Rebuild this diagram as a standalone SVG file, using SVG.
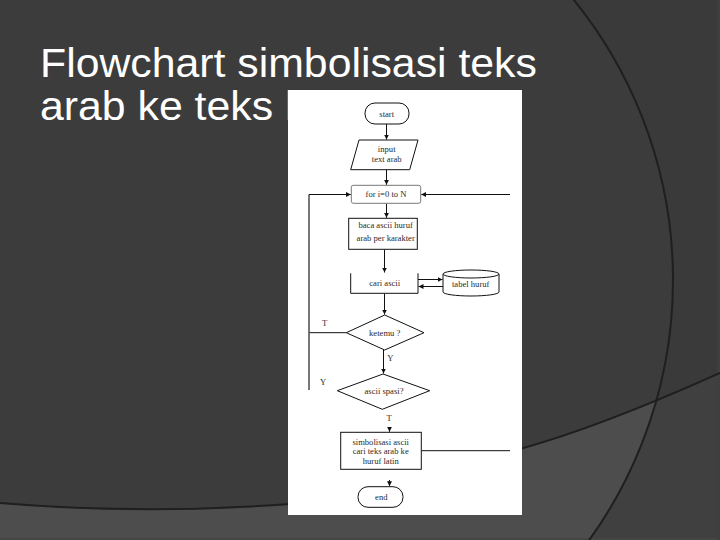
<svg xmlns="http://www.w3.org/2000/svg" width="720" height="540" viewBox="0 0 720 540">
<style>
.title{font-family:"Liberation Sans",Arial,sans-serif;font-size:40px;fill:#ffffff}
.nd{fill:#ffffff;stroke:#111;stroke-width:1}
.lb{font-family:"Liberation Serif","Times New Roman",serif;font-size:8.6px;fill:#2a2a2a;text-anchor:middle}
.cn{fill:none;stroke:#111;stroke-width:1}
.bgl{fill:none;stroke:#1f1f1f;stroke-width:2}
</style>
<defs>
<marker id="ah" markerUnits="userSpaceOnUse" markerWidth="6" markerHeight="6" refX="5" refY="2.5" orient="auto">
<path d="M0,0 L5,2.5 L0,5 z" fill="#111"/>
</marker>
<clipPath id="bigc"><circle cx="228" cy="280" r="445"/></clipPath>
</defs>
<g id="background">
<rect x="0" y="0" width="720" height="540" fill="#3a3a3a"/>
<circle cx="228" cy="280" r="445" fill="#3c3c3c"/>
<path d="M0,503 Q144,515 290,504 L520,449 Q600,427 720,373 L720,540 L0,540 Z" fill="#404040"/>
<path d="M0,503 Q144,515 290,504 L520,449 Q600,427 720,373 L720,540 L0,540 Z" fill="#4d4d4d" clip-path="url(#bigc)"/>
<rect x="0" y="538" width="720" height="2" fill="#454545"/>
<rect x="717" y="0" width="3" height="540" fill="#3f3f3f"/>
<circle cx="228" cy="280" r="445" class="bgl"/>
<path d="M0,503 Q144,515 290,504" class="bgl"/>
<path d="M520,449 Q600,427 720,373" class="bgl"/>
</g>
<g id="title" transform="translate(40,0) scale(1.07,1)">
<text class="title" x="0" y="76.7">Flowchart simbolisasi teks</text>
<text class="title" x="0" y="120">arab ke teks latin</text>
</g>
<rect id="image-bg" x="288" y="90" width="234" height="425" fill="#ffffff"/>
<g id="connectors">
<path class="cn" d="M386.5,124 V139.5" marker-end="url(#ah)"/>
<path class="cn" d="M386.5,170 V184.8" marker-end="url(#ah)"/>
<path class="cn" d="M386.5,203.5 V217.8" marker-end="url(#ah)"/>
<path class="cn" d="M384.5,249.5 V272.5" marker-end="url(#ah)"/>
<path class="cn" d="M384.5,293.5 V314.5" marker-end="url(#ah)"/>
<path class="cn" d="M383.5,350 V373.5" marker-end="url(#ah)"/>
<path class="cn" d="M389.5,427 V431.8" marker-end="url(#ah)"/>
<path class="cn" d="M389.5,480 V486.2" marker-end="url(#ah)"/>
<path class="cn" d="M346.3,332.7 H309"/>
<path d="M309,390 V194.5" fill="none" stroke="#555" stroke-width="1.6"/>
<path class="cn" d="M309,194.5 H350.8" marker-end="url(#ah)"/>
<path class="cn" d="M510,194.5 H421.2" marker-end="url(#ah)"/>
<path class="cn" d="M421.3,450.7 H510"/>
<path class="cn" d="M418,279.5 H442.5" marker-end="url(#ah)"/>
<path class="cn" d="M443,286.5 H418.5" marker-end="url(#ah)"/>
<text class="lb" x="324.7" y="326">T</text>
<text class="lb" x="390.3" y="361">Y</text>
<text class="lb" x="323" y="384.5">Y</text>
<text class="lb" x="389" y="421">T</text>
</g>
<g id="start">
<rect class="nd" x="365" y="103" width="44" height="21" rx="10"/>
<text class="lb" x="386.7" y="117">start</text>
</g>
<g id="input">
<polygon class="nd" points="359,140 418,140 409.7,169.7 350.7,169.7"/>
<text class="lb" x="386.7" y="151.5">input</text>
<text class="lb" x="386.7" y="162">text arab</text>
</g>
<g id="for">
<rect x="351.3" y="185.3" width="69.4" height="18" rx="2" fill="#ffffff" stroke="#777" stroke-width="1"/>
<text class="lb" x="386" y="197">for i=0 to N</text>
</g>
<g id="baca">
<rect class="nd" x="348.7" y="218.3" width="68.6" height="31"/>
<text class="lb" x="385.7" y="228">baca ascii huruf</text>
<text class="lb" x="385.7" y="240.5">arab per karakter</text>
</g>
<g id="cari">
<path d="M350.7,273.3 V293.3 H418 V273.3" fill="#ffffff" stroke="#111" stroke-width="1"/>
<text class="lb" x="384.7" y="286">cari ascii</text>
</g>
<g id="tabel">
<path d="M443,274 V292 A28,4 0 0 0 499,292 V274" fill="#ffffff" stroke="#111" stroke-width="1"/>
<ellipse cx="471" cy="274" rx="28" ry="4" fill="#ffffff" stroke="#111" stroke-width="1"/>
<text class="lb" x="470.7" y="287">tabel huruf</text>
</g>
<g id="ketemu">
<polygon class="nd" points="384.7,315 424,332.7 384.7,350 346.3,332.7"/>
<text class="lb" x="384.7" y="335.5">ketemu ?</text>
</g>
<g id="spasi">
<polygon class="nd" points="383,374 429.7,390.7 382.3,409.3 337.3,390.7"/>
<text class="lb" x="384" y="394">ascii spasi?</text>
</g>
<g id="simbolisasi">
<rect class="nd" x="340.7" y="432.3" width="80.6" height="37"/>
<text class="lb" x="380.7" y="444.5">simbolisasi ascii</text>
<text class="lb" x="380.7" y="454">cari teks arab ke</text>
<text class="lb" x="380.7" y="464">huruf latin</text>
</g>
<g id="end">
<rect class="nd" x="358" y="486.7" width="45" height="20.6" rx="10"/>
<text class="lb" x="381.3" y="500">end</text>
</g>
</svg>
